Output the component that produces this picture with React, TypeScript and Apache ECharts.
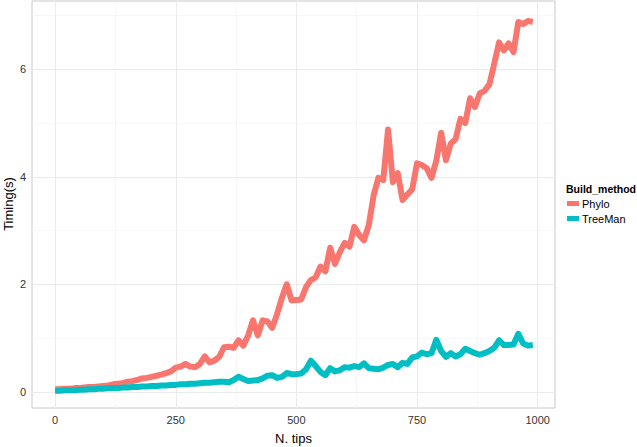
import React, { useEffect, useRef } from "react";
import * as echarts from "echarts";

const nTips = [
  0, 10, 20, 30, 40, 50, 60, 70, 80, 90,
  100, 110, 120, 130, 140, 150, 160, 170, 180, 190,
  200, 210, 220, 230, 240, 250, 260, 270, 280, 290,
  300, 310, 320, 330, 340, 350, 360, 370, 380, 390,
  400, 410, 420, 430, 440, 450, 460, 470, 480, 490,
  500, 510, 520, 530, 540, 550, 560, 570, 580, 590,
  600, 610, 620, 630, 640, 650, 660, 670, 680, 690,
  700, 710, 720, 730, 740, 750, 760, 770, 780, 790,
  800, 810, 820, 830, 840, 850, 860, 870, 880, 890,
  900, 910, 920, 930, 940, 950, 960, 970, 980, 990,
];

const phylo = [
  0.05, 0.05, 0.06, 0.06, 0.07, 0.07, 0.08, 0.09, 0.09, 0.10,
  0.11, 0.12, 0.14, 0.15, 0.16, 0.19, 0.20, 0.22, 0.25, 0.26,
  0.28, 0.30, 0.32, 0.35, 0.38, 0.45, 0.47, 0.52, 0.47, 0.46,
  0.52, 0.66, 0.55, 0.58, 0.65, 0.83, 0.84, 0.82, 0.96, 0.86,
  1.05, 1.33, 1.05, 1.33, 1.31, 1.19, 1.45, 1.75, 2.0, 1.70,
  1.71, 1.72, 1.95, 2.08, 2.13, 2.33, 2.24, 2.68, 2.38, 2.60,
  2.77, 2.70, 3.07, 2.92, 2.82, 3.10, 3.65, 3.98, 3.94, 4.88,
  3.90, 4.07, 3.57, 3.67, 3.77, 4.25, 4.22, 4.16, 3.98, 4.30,
  4.82, 4.31, 4.62, 4.70, 5.08, 5.0, 5.46, 5.30, 5.55, 5.60,
  5.72, 6.10, 6.50, 6.35, 6.48, 6.32, 6.88, 6.84, 6.90, 6.88,
];

const treeMan = [
  0.02, 0.02, 0.03, 0.03, 0.03, 0.04, 0.04, 0.05, 0.05, 0.06,
  0.06, 0.07, 0.07, 0.07, 0.08, 0.08, 0.09, 0.09, 0.10, 0.10,
  0.11, 0.11, 0.12, 0.12, 0.13, 0.13, 0.14, 0.14, 0.15, 0.15,
  0.16, 0.17, 0.17, 0.18, 0.19, 0.19, 0.18, 0.22, 0.28, 0.24,
  0.20, 0.21, 0.22, 0.25, 0.30, 0.31, 0.26, 0.28, 0.35, 0.33,
  0.33, 0.34, 0.42, 0.58, 0.48, 0.37, 0.31, 0.44, 0.38, 0.40,
  0.46, 0.45, 0.48, 0.46, 0.53, 0.44, 0.43, 0.42, 0.45, 0.50,
  0.52, 0.46, 0.54, 0.52, 0.64, 0.66, 0.73, 0.70, 0.72, 0.97,
  0.76, 0.65, 0.72, 0.66, 0.70, 0.80, 0.76, 0.72, 0.69, 0.72,
  0.76, 0.82, 0.96, 0.87, 0.87, 0.88, 1.08, 0.90, 0.86, 0.87,
];

const xTicks = [0, 250, 500, 750, 1000];
const xMinor = [125, 375, 625, 875];
const yTicks = [0, 2, 4, 6];
const yMinor = [1, 3, 5, 7];

const FONT = "Liberation Sans, Arial, Helvetica, sans-serif";

export default function App() {
  const ref = useRef<HTMLDivElement>(null);
  useEffect(() => {
    if (!ref.current) return;
    const chart = echarts.init(ref.current, undefined, { renderer: "svg" });
    const minorStyle = { color: "#f3f3f3", width: 0.7, type: "solid" };
    const majorStyle = { color: "#ebebeb", width: 1, type: "solid" };
    const gridLines = [
      ...xMinor.map((v) => ({ xAxis: v, lineStyle: minorStyle })),
      ...yMinor.map((v) => ({ yAxis: v, lineStyle: minorStyle })),
      ...xTicks.map((v) => ({ xAxis: v, lineStyle: majorStyle })),
      ...yTicks.map((v) => ({ yAxis: v, lineStyle: majorStyle })),
    ];
    chart.setOption({
      animation: false,
      backgroundColor: "#ffffff",
      textStyle: { fontFamily: FONT },
      title: {
        text: "Build_method",
        left: 566,
        top: 183,
        padding: 0,
        textStyle: { fontSize: 10.5, fontWeight: "bold", color: "#000", fontFamily: FONT },
      },
      graphic: [
        {
          type: "text",
          x: 8,
          y: 204,
          rotation: Math.PI / 2,
          style: {
            text: "Timing(s)",
            fontSize: 13,
            fontFamily: FONT,
            fill: "#000",
            align: "center",
            verticalAlign: "middle",
          },
        },
      ],
      legend: {
        data: ["Phylo", "TreeMan"],
        orient: "vertical",
        left: 567,
        top: 198,
        padding: 0,
        itemWidth: 12,
        itemHeight: 5,
        itemGap: 4,
        icon: "rect",
        textStyle: { fontSize: 11, color: "#000", fontFamily: FONT, padding: [0, 0, 0, -2] },
      },
      grid: {
        left: 32,
        top: 1,
        width: 523,
        height: 407,
        containLabel: false,
        outerBoundsMode: "none",
        show: true,
        borderColor: "#c8c8c8",
        borderWidth: 1,
        backgroundColor: "transparent",
      },
      xAxis: {
        type: "value",
        min: -48,
        max: 1036,
        name: "N. tips",
        nameLocation: "middle",
        nameGap: 24,
        nameTextStyle: { fontSize: 13, color: "#000", fontFamily: FONT },
        axisLine: { show: false },
        axisTick: {
          show: true,
          length: 3,
          customValues: xTicks,
          lineStyle: { color: "#555" },
        },
        axisLabel: {
          customValues: xTicks,
          formatter: (v: number) => String(v),
          fontSize: 11,
          color: "#333",
          margin: 6,
          fontFamily: FONT,
        },
        splitLine: { show: false },
      },
      yAxis: {
        type: "value",
        min: -0.3,
        max: 7.27,
        axisLine: { show: false },
        axisTick: {
          show: true,
          length: 3,
          customValues: yTicks,
          lineStyle: { color: "#555" },
        },
        axisLabel: {
          customValues: yTicks,
          formatter: (v: number) => String(v),
          fontSize: 11,
          color: "#333",
          margin: 6,
          fontFamily: FONT,
        },
        splitLine: { show: false },
      },
      series: [
        {
          name: "grid",
          type: "line",
          data: [[0, 0]],
          showSymbol: false,
          symbol: "none",
          silent: true,
          z: 1,
          lineStyle: { width: 0, opacity: 0 },
          markLine: {
            silent: true,
            z: 1,
            symbol: ["none", "none"],
            label: { show: false },
            animation: false,
            data: gridLines,
          },
        },
        {
          name: "Phylo",
          type: "line",
          z: 3,
          data: nTips.map((x, i) => [x, phylo[i]]),
          showSymbol: false,
          symbol: "none",
          color: "#F8766D",
          lineStyle: { width: 6, color: "#F8766D", cap: "butt", join: "round" },
        },
        {
          name: "TreeMan",
          type: "line",
          z: 3,
          data: nTips.map((x, i) => [x, treeMan[i]]),
          showSymbol: false,
          symbol: "none",
          color: "#00BFC4",
          lineStyle: { width: 6, color: "#00BFC4", cap: "butt", join: "round" },
        },
      ],
    });
    return () => chart.dispose();
  }, []);
  return (
    <div
      ref={ref}
      style={{ position: "fixed", left: 0, top: 0, width: 637, height: 447, background: "#fff" }}
    />
  );
}
